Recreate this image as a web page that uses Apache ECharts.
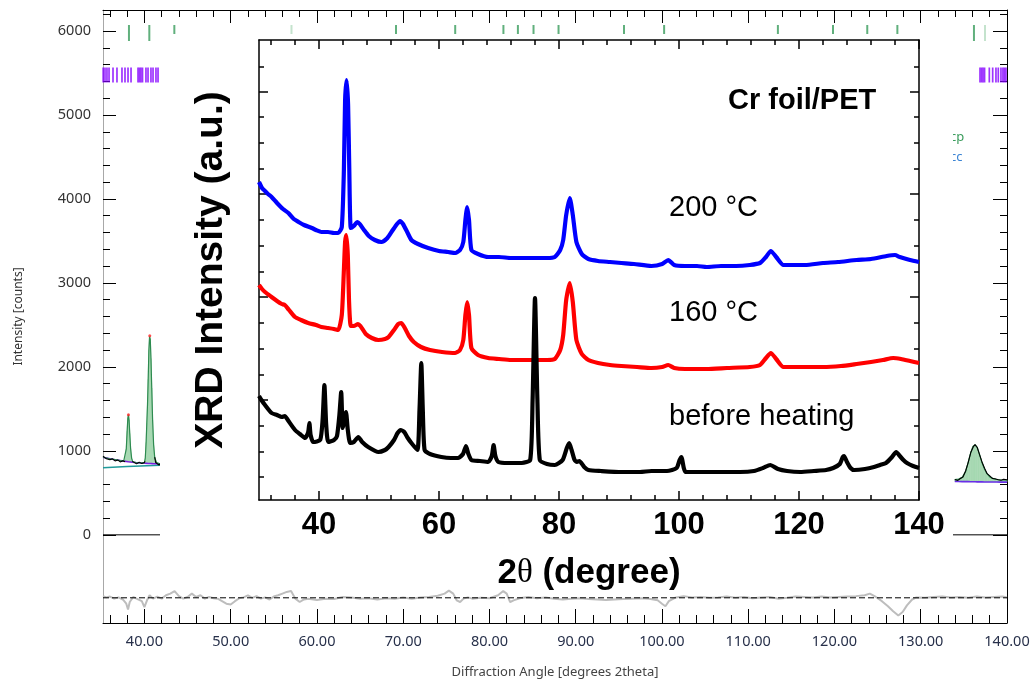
<!DOCTYPE html>
<html><head><meta charset="utf-8">
<script src="https://cdn.jsdelivr.net/npm/echarts@6.0.0/dist/echarts.min.js"></script>
<style>html,body{margin:0;padding:0;background:#fff}#c{width:1035px;height:682px}</style>
</head><body><div id="c"></div>
<script>
// ---------- Background (Rietveld) plot data ----------
const bgMajorX = [40,50,60,70,80,90,100,110,120,130,140];
const bgMinorX = [36,38,42,44,46,48,52,54,56,58,62,64,66,68,72,74,76,78,82,84,86,88,92,94,96,98,102,104,106,108,112,114,116,118,122,124,126,128,132,134,136,138];
const bgMajorY = [0,1000,2000,3000,4000,5000,6000];
const bgMinorY = [200,400,600,800,1200,1400,1600,1800,2200,2400,2600,2800,3200,3400,3600,3800,4200,4400,4600,4800,5200,5400,5600,5800,6200];

const phaseTicks = [38.21,40.57,43.47,69.17,76.03,81.62,83.30,85.11,88.01,95.60,100.25,113.44,119.83,123.80,127.29,136.17];
const phaseTicksLight = [57.05,137.45];
const purpleTicks = [35.22,35.43,35.66,35.9,36.36,36.82,37.4,37.75,38.1,38.45,39.26,39.43,39.6,39.78,40.18,40.42,40.76,41.0,41.34,41.58,
  136.87,137.05,137.22,137.4,137.95,138.34,138.72,138.99,139.3,139.53,139.7,139.88];

const leftTheta = [35.2,35.6,36.0,36.6,37.2,37.6,37.75,37.9,38.0,38.08,38.15,38.22,38.3,38.4,38.52,38.65,39.0,39.6,40.0,40.1,40.2,40.28,40.36,40.44,40.52,40.6,40.68,40.76,40.85,40.95,41.07,41.2,41.4,41.8];
const leftBackground = [925,915,905,895,885,878,876,874,872,871,870,869,868,867,866,864,860,856,853,852,852,851,851,851,850,850,850,849,849,848,848,847,846,845];
const leftCalcNet = [0,0,0,0,0,0,20,150,360,520,560,500,340,160,45,8,0,0,5,60,250,480,700,1000,1350,1510,1480,1250,900,520,220,70,15,0];
const leftObs = [[35.2,935],[35.4,918],[35.6,905],[35.8,915],[36.0,893],[36.3,905],[36.6,880],[36.9,892],[37.2,868],[37.5,882],[37.75,870],[37.85,'-'],[38.55,'-'],[38.6,875],[38.8,858],[39.1,845],[39.4,866],[39.7,848],[40.0,862],[40.08,875],[40.15,'-'],[41.15,'-'],[41.2,925],[41.3,862],[41.5,852],[41.7,830],[41.8,845]];
const leftTeal = [[35.2,800],[38.0,815],[41.8,830]];

const rightTheta = [133.95,134.4,134.8,135.2,135.5,135.8,136.05,136.3,136.55,136.8,137.1,137.4,137.7,138.0,138.4,138.8,139.3,140];
const rightBackground = [636,635,634,633,633,632,632,632,631,631,631,630,630,630,629,629,628,628];
const rightCalcNet = [22,28,50,120,230,350,420,440,410,330,230,150,95,60,40,30,25,22];
const rightObs = [[133.95,660],[134.3,648],[134.6,670],[134.9,688],[135.2,760],[135.5,860],[135.8,980],[136.1,1050],[136.3,1075],[136.55,1040],[136.8,962],[137.1,868],[137.4,792],[137.7,728],[138.0,702],[138.3,672],[138.6,668],[139.0,656],[139.3,650],[139.6,662],[140,655]];
const obsPeakTops = [[38.15,1430],[40.62,2370]];

const zeroLine = [[35.2,0],[140,0]];
const residualZero = [[35.2,-750],[140,-750]];
const residual = [[35.2,-730],[35.6,-745],[36.0,-735],[36.5,-760],[37.0,-745],[37.5,-770],[37.9,-820],[38.1,-890],[38.3,-800],[38.7,-740],[39.2,-765],[39.7,-790],[40.0,-860],[40.3,-780],[40.6,-720],[41.0,-760],[41.5,-735],[42.0,-760],[42.5,-720],[43.0,-700],[43.5,-670],[44.0,-730],[44.5,-760],[45.0,-740],[45.5,-700],[46.0,-740],[46.5,-720],[47.0,-760],[47.5,-740],[48.0,-755],[48.5,-760],[49.0,-790],[49.5,-820],[50.0,-830],[50.5,-790],[51.0,-755],[51.5,-745],[52.0,-720],[52.5,-750],[53.0,-730],[53.5,-760],[54.0,-745],[54.5,-770],[55.0,-735],[55.5,-720],[56.0,-700],[56.5,-680],[57.0,-670],[57.5,-760],[58.0,-800],[58.5,-770],[59.0,-760],[60.0,-775],[61.0,-760],[62.0,-765],[63.0,-740],[64.0,-745],[65.0,-760],[66.0,-755],[67.0,-770],[68.0,-755],[69.0,-760],[70.0,-745],[71.0,-760],[72.0,-745],[73.0,-740],[74.0,-725],[74.8,-700],[75.3,-665],[75.8,-700],[76.2,-780],[76.6,-800],[77.0,-760],[77.5,-745],[78.0,-760],[79.0,-750],[80.0,-755],[81.0,-720],[81.6,-670],[82.0,-700],[82.4,-800],[82.8,-780],[83.5,-755],[84.5,-740],[85.5,-755],[86.5,-745],[87.5,-760],[88.5,-770],[89.5,-760],[90.5,-755],[91.5,-765],[92.5,-770],[93.5,-775],[94.5,-770],[95.5,-765],[96.5,-760],[97.5,-755],[98.5,-760],[99.5,-780],[100.0,-820],[100.4,-850],[100.8,-790],[101.5,-750],[102.5,-730],[103.5,-745],[104.5,-740],[105.5,-750],[106.5,-745],[107.5,-735],[108.5,-750],[109.5,-740],[110.5,-755],[111.5,-745],[112.5,-740],[113.5,-760],[114.5,-750],[115.5,-735],[116.5,-740],[117.5,-745],[118.5,-735],[119.5,-745],[120.5,-740],[121.5,-735],[122.5,-730],[123.5,-720],[124.1,-700],[124.8,-740],[125.5,-790],[126.2,-850],[126.8,-910],[127.4,-960],[127.9,-920],[128.4,-840],[129.0,-770],[129.5,-745],[130.5,-750],[131.5,-740],[132.5,-735],[133.5,-745],[134.5,-740],[135.5,-750],[136.5,-735],[137.5,-745],[138.5,-740],[139.5,-735],[140,-745]];

// ---------- Inset (XRD) data ----------
const insetMajorX = [40,60,80,100,120,140];
const insetMinorX = [32,36,44,48,52,56,64,68,72,76,84,88,92,96,104,108,112,116,124,128,132,136];
const insetMajorY = [100,203,306,408];
const insetMinorY = [23,48.7,74.3,125.7,151.3,177,228.7,254.3,280,331.7,357.3,383,433.7];

const xrd200 = [[30,318],[30.5,312],[31,309],[31.5,306],[32.1,303],[33,297],[34,291],[34.9,287],[35.8,281],[36.6,278],[37.5,275],[38.8,272],[39.5,270],[40.4,268],[41.5,268],[42.5,267],[43.2,267],[43.8,273],[44.15,330],[44.35,400],[44.6,420],[44.85,395],[45.05,330],[45.3,272],[45.8,274],[46.4,278],[46.8,276],[47.5,270],[48.3,264],[49.3,260],[50.4,258],[51.4,262],[52.3,270],[53,276],[53.5,279],[54,276],[54.7,268],[55.4,260],[56.5,256],[58.2,252],[60,249],[61.5,248],[62.7,247],[63.5,250],[64.05,258],[64.4,280],[64.7,293],[65,280],[65.4,250],[66.5,246],[68.2,243],[70,243],[72,242],[73.8,242],[76,242],[78,242],[79.3,243],[80.2,250],[80.7,260],[81.2,285],[81.8,302],[82.3,285],[82.9,258],[83.8,246],[84.9,241],[86.5,239],[88.5,238],[90.4,237],[92.5,236],[95.4,234],[97.2,236],[98.2,240],[99.2,235],[101,234],[103,234],[104.6,233],[107,234],[109.5,234],[111.8,235],[113.5,237],[114.5,243],[115.3,249],[116.2,243],[117.4,235],[119,235],[121,235],[124,237],[126.5,238],[129.6,240],[132,241],[134.6,244],[136,245],[136.8,243],[138.5,240],[140,238]];
const xrd160 = [[30,215],[30.5,211],[31,208],[32.1,203],[33,199],[33.8,196],[34.3,195],[35,190],[36,183],[37,180],[38.2,177],[39.5,175],[40.4,173],[41.5,172],[42.5,171],[43.2,170],[43.8,185],[44.15,230],[44.35,258],[44.55,265],[44.8,245],[45,200],[45.3,174],[45.8,174],[46.5,176],[46.9,174],[47.8,166],[48.8,162],[49.9,160],[51,161],[51.6,163],[52.5,170],[53.2,176],[53.7,177],[54.3,172],[55,164],[55.8,158],[57,153],[58.5,150],[60.5,148],[62.7,147],[63.5,150],[64.05,160],[64.4,185],[64.7,198],[65,185],[65.4,152],[66.5,145],[68.2,142],[70,141],[72,140],[73.8,140],[76,140],[78,140],[79.3,141],[80.2,150],[80.7,165],[81.2,200],[81.8,217],[82.3,198],[82.9,160],[83.8,146],[84.9,140],[86.5,137],[88.5,135],[90.4,134],[93,133],[95.4,132],[97.2,133],[98.2,135],[99.2,132],[101,131],[104.6,131],[108,132],[111.8,133],[113.5,135],[114.5,142],[115.3,147],[116.2,141],[117.4,133],[120,133],[124,133],[127,134],[129.6,136],[132,138],[134,140],[135.7,142],[137,141],[138.5,139],[140,137]];
const xrdBefore = [[30,104],[30.4,100],[31,95],[32.1,87],[33,85],[33.8,83],[34.3,84],[34.8,80],[36,70],[36.8,66],[37.7,62],[38.2,68],[38.4,77],[38.6,65],[39.05,58],[40.2,60],[40.6,80],[40.9,115],[41.2,75],[41.55,58],[42.5,60],[43,64],[43.4,85],[43.7,108],[43.95,72],[44.2,78],[44.5,88],[44.8,70],[45.2,57],[45.8,58],[46.55,63],[47.2,58],[48.2,53],[49.9,48],[51,50],[51.6,53],[52.5,60],[53.1,67],[53.6,70],[54.2,68],[54.8,62],[55.4,57],[56.4,50],[56.75,90],[57.05,137],[57.3,90],[57.6,50],[58.5,46],[60.4,43],[62,42],[63.2,42],[64,46],[64.5,54],[64.9,46],[65.4,40],[66.8,39],[68.2,38],[68.8,44],[69.1,55],[69.4,44],[69.9,38],[71.5,37],[73.8,37],[75.2,40],[75.6,100],[76,202],[76.4,100],[76.8,40],[78,36],[79.3,35],[80.6,40],[81.3,52],[81.7,57],[82.1,50],[82.6,40],[83,38],[83.4,39],[84.2,33],[84.9,30],[87,29],[90.4,28],[93.5,28],[95.4,29],[98,29],[99.6,32],[100.1,40],[100.4,43],[100.8,32],[101.1,28],[104,28],[107,28],[110.2,28],[112.5,29],[114,32],[115.2,35],[116.5,31],[118,29],[120.2,28],[122.5,29],[124.5,30],[125.7,32],[126.8,36],[127.3,43],[127.5,44],[128,38],[128.6,32],[129.2,30],[131,31],[132.5,33],[133.5,35],[134.5,37],[135.5,43],[136.2,48],[136.8,44],[137.4,40],[138,37],[139,34],[140,32]];

// ---------- chart ----------
const chart = echarts.init(document.getElementById('c'), null, {renderer:'canvas'});
const BGF = '"Noto Sans", "Open Sans", sans-serif';
const INF = '"Liberation Sans", Arial, sans-serif';
const zip = (xs, ys) => xs.map((x, i) => [x, ys[i]]);
const addUp = (xs, a, b) => xs.map((x, i) => [x, a[i] + b[i]]);

function tickAxis(extra) {
  const o = Object.assign({type:'value', splitLine:{show:false}}, extra);
  o.axisLine = Object.assign({onZero:false}, o.axisLine || {});
  return o;
}
const bgX = {gridIndex:0, min:35.2, max:140, z:1};
const bgY = {gridIndex:0, min:-1050, max:6250, z:1};
const inX = {gridIndex:1, min:30, max:140, z:10};
const inY = {gridIndex:1, min:0, max:460, z:10};
const blk = {color:'#000', width:1};
const blk15 = {color:'#000', width:1.5};

// filled calculated peak (between background line and calc curve), drawn through the axes' scale
function peakFill(theta, base, net) {
  return {
    type:'custom', xAxisIndex:0, yAxisIndex:0, z:2, silent:true,
    data: zip(theta, net),
    encode:{x:0, y:1},
    renderItem: function (params, api) {
      const i = params.dataIndex;
      if (i >= theta.length - 1) return null;
      const pts = [
        api.coord([theta[i], base[i]]),
        api.coord([theta[i+1], base[i+1]]),
        api.coord([theta[i+1], base[i+1] + net[i+1]]),
        api.coord([theta[i], base[i] + net[i]])
      ];
      return {type:'polygon', shape:{points:pts}, style:{fill:'#a6d8b2', stroke:'#a6d8b2', lineWidth:0.6}};
    }
  };
}

function xrdSeries(name, data, color) {
  return {type:'line', name:name, xAxisIndex:4, yAxisIndex:4, z:12, silent:true, symbol:'none',
    smooth:0.2, data:data, lineStyle:{color:color, width:4.2, join:'round'}};
}

const option = {
  animation:false,
  backgroundColor:'#fff',
  grid:[
    {left:103, right:28, top:10, bottom:59, outerBoundsMode:'none'},
    {left:259, right:116, top:40, bottom:182, outerBoundsMode:'none'}
  ],
  xAxis:[
    tickAxis(Object.assign({}, bgX, {position:'bottom',
      axisLine:{lineStyle:blk},
      axisTick:{inside:true, length:14, customValues:bgMajorX, lineStyle:blk},
      axisLabel:{customValues:bgMajorX, formatter:v=>v.toFixed(2), fontSize:14.5, color:'#27304a', fontFamily:BGF, margin:11},
      name:'Diffraction Angle [degrees 2theta]', nameLocation:'middle', nameGap:43,
      nameTextStyle:{fontSize:13, color:'#444', fontFamily:BGF}})),
    tickAxis(Object.assign({}, bgX, {position:'bottom', axisLine:{show:false},
      axisTick:{inside:true, length:8, customValues:bgMinorX, lineStyle:blk}, axisLabel:{show:false}})),
    tickAxis(Object.assign({}, bgX, {position:'top', axisLine:{lineStyle:blk},
      axisTick:{inside:true, length:13, customValues:bgMajorX, lineStyle:blk}, axisLabel:{show:false}})),
    tickAxis(Object.assign({}, bgX, {position:'top', axisLine:{show:false},
      axisTick:{inside:true, length:7, customValues:bgMinorX, lineStyle:blk}, axisLabel:{show:false}})),
    tickAxis(Object.assign({}, inX, {position:'bottom', axisLine:{lineStyle:blk15},
      axisTick:{inside:true, length:9, customValues:insetMajorX, lineStyle:blk15},
      axisLabel:{customValues:insetMajorX, fontSize:31, fontWeight:'bold', color:'#000', fontFamily:INF, margin:10},
      name:'{a|2}{t|θ}{a| (degree)}', nameLocation:'middle', nameGap:56,
      nameTextStyle:{rich:{a:{fontSize:35, fontWeight:'bold', fontFamily:INF, color:'#000'}, t:{fontSize:33, fontFamily:'"Liberation Serif", serif', color:'#000'}}}})),
    tickAxis(Object.assign({}, inX, {position:'bottom', axisLine:{show:false},
      axisTick:{inside:true, length:5, customValues:insetMinorX, lineStyle:blk15}, axisLabel:{show:false}})),
    tickAxis(Object.assign({}, inX, {position:'top', axisLine:{lineStyle:blk15},
      axisTick:{inside:true, length:9, customValues:insetMajorX, lineStyle:blk15}, axisLabel:{show:false}})),
    tickAxis(Object.assign({}, inX, {position:'top', axisLine:{show:false},
      axisTick:{inside:true, length:5, customValues:insetMinorX, lineStyle:blk15}, axisLabel:{show:false}}))
  ],
  yAxis:[
    tickAxis(Object.assign({}, bgY, {position:'left', axisLine:{lineStyle:{color:'#a8a8a8', width:1}},
      axisTick:{inside:true, length:13, customValues:bgMajorY, lineStyle:blk},
      axisLabel:{customValues:bgMajorY, formatter:v=>String(v), fontSize:14.5, color:'#333', fontFamily:BGF, margin:12},
      name:'Intensity [counts]', nameLocation:'middle', nameRotate:90, nameGap:78,
      nameTextStyle:{fontSize:12, color:'#333', fontFamily:BGF}})),
    tickAxis(Object.assign({}, bgY, {position:'left', axisLine:{show:false},
      axisTick:{inside:true, length:7, customValues:bgMinorY, lineStyle:blk}, axisLabel:{show:false}})),
    tickAxis(Object.assign({}, bgY, {position:'right', axisLine:{lineStyle:blk},
      axisTick:{inside:true, length:14, customValues:bgMajorY, lineStyle:blk}, axisLabel:{show:false}})),
    tickAxis(Object.assign({}, bgY, {position:'right', axisLine:{show:false},
      axisTick:{inside:true, length:7, customValues:bgMinorY, lineStyle:blk}, axisLabel:{show:false}})),
    tickAxis(Object.assign({}, inY, {position:'left', axisLine:{lineStyle:blk15},
      axisTick:{inside:true, length:9, customValues:insetMajorY, lineStyle:blk15}, axisLabel:{show:false},
      name:'XRD Intensity (a.u.)', nameLocation:'middle', nameRotate:90, nameGap:28,
      nameTextStyle:{fontSize:39, fontWeight:'bold', fontFamily:INF, color:'#000'}})),
    tickAxis(Object.assign({}, inY, {position:'left', axisLine:{show:false},
      axisTick:{inside:true, length:5, customValues:insetMinorY, lineStyle:blk15}, axisLabel:{show:false}})),
    tickAxis(Object.assign({}, inY, {position:'right', axisLine:{lineStyle:blk15},
      axisTick:{inside:true, length:9, customValues:insetMajorY, lineStyle:blk15}, axisLabel:{show:false}})),
    tickAxis(Object.assign({}, inY, {position:'right', axisLine:{show:false},
      axisTick:{inside:true, length:5, customValues:insetMinorY, lineStyle:blk15}, axisLabel:{show:false}}))
  ],
  series:[
    // background plot
    {type:'line', xAxisIndex:0, yAxisIndex:0, z:2, silent:true, symbol:'none', data:zeroLine, lineStyle:{color:'#000', width:1}},
    {type:'line', xAxisIndex:0, yAxisIndex:0, z:2, silent:true, symbol:'none', data:residual, lineStyle:{color:'#bdbdbd', width:2}},
    {type:'line', xAxisIndex:0, yAxisIndex:0, z:3, silent:true, symbol:'none', data:residualZero, lineStyle:{color:'#000', width:1, type:[6,3]}},
    {type:'scatter', xAxisIndex:0, yAxisIndex:0, z:2, silent:true, symbol:'rect', symbolSize:[2,16], data:phaseTicks.map(t=>[t,5976]), itemStyle:{color:'#3a9c5c'}},
    {type:'scatter', xAxisIndex:0, yAxisIndex:0, z:2, silent:true, symbol:'rect', symbolSize:[2,16], data:phaseTicksLight.map(t=>[t,5976]), itemStyle:{color:'#b5dcc0'}},
    {type:'scatter', xAxisIndex:0, yAxisIndex:0, z:2, silent:true, symbol:'rect', symbolSize:[1.7,15], data:purpleTicks.map(t=>[t,5476]), itemStyle:{color:'#8400ff'}},
    peakFill(leftTheta, leftBackground, leftCalcNet),
    peakFill(rightTheta, rightBackground, rightCalcNet),
    {type:'line', xAxisIndex:0, yAxisIndex:0, z:3, silent:true, symbol:'none', data:leftTeal, lineStyle:{color:'#1f9a9a', width:1.5}},
    {type:'line', xAxisIndex:0, yAxisIndex:0, z:3, silent:true, symbol:'none', data:zip(leftTheta,leftBackground), lineStyle:{color:'#7a1fe0', width:1.6}},
    {type:'line', xAxisIndex:0, yAxisIndex:0, z:3, silent:true, symbol:'none', data:addUp(leftTheta,leftBackground,leftCalcNet), lineStyle:{color:'#2e8b50', width:1.2}},
    {type:'line', xAxisIndex:0, yAxisIndex:0, z:4, silent:true, symbol:'none', connectNulls:false, data:leftObs, lineStyle:{color:'#000', width:1.1}},
    {type:'line', xAxisIndex:0, yAxisIndex:0, z:3, silent:true, symbol:'none', data:zip(rightTheta,rightBackground), lineStyle:{color:'#6a2ee8', width:1.6}},
    {type:'line', xAxisIndex:0, yAxisIndex:0, z:3, silent:true, symbol:'none', data:addUp(rightTheta,rightBackground,rightCalcNet), lineStyle:{color:'#2e8b50', width:1.2}},
    {type:'line', xAxisIndex:0, yAxisIndex:0, z:4, silent:true, symbol:'none', data:rightObs, lineStyle:{color:'#000', width:1.1}},
    {type:'scatter', xAxisIndex:0, yAxisIndex:0, z:4, silent:true, symbolSize:3, data:obsPeakTops, itemStyle:{color:'#ff2020'}},
    // inset XRD plot
    xrdSeries('200 °C', xrd200, '#0000ff'),
    xrdSeries('160 °C', xrd160, '#ff0000'),
    xrdSeries('before heating', xrdBefore, '#000000')
  ],
  graphic:{elements:[
    {type:'text', x:950, y:137, z:3, silent:true, style:{text:'cp', fill:'#3a9c5c', font:'13px "Noto Sans"', textVerticalAlign:'middle'}},
    {type:'text', x:950, y:157, z:3, silent:true, style:{text:'cc', fill:'#3b84d4', font:'13px "Noto Sans"', textVerticalAlign:'middle'}},
    {type:'rect', z:5, silent:true, shape:{x:160, y:34, width:793, height:554}, style:{fill:'#ffffff'}},
    {type:'text', x:728, y:101, z:20, silent:true, style:{text:'Cr foil/PET', fill:'#000', font:'bold 29px "Liberation Sans"', textVerticalAlign:'middle'}},
    {type:'text', x:669, y:208, z:20, silent:true, style:{text:'200 °C', fill:'#000', font:'29px "Liberation Sans"', textVerticalAlign:'middle'}},
    {type:'text', x:669, y:313, z:20, silent:true, style:{text:'160 °C', fill:'#000', font:'29px "Liberation Sans"', textVerticalAlign:'middle'}},
    {type:'text', x:669, y:417, z:20, silent:true, style:{text:'before heating', fill:'#000', font:'29px "Liberation Sans"', textVerticalAlign:'middle'}}
  ]}
};
chart.setOption(option);
</script></body></html>
